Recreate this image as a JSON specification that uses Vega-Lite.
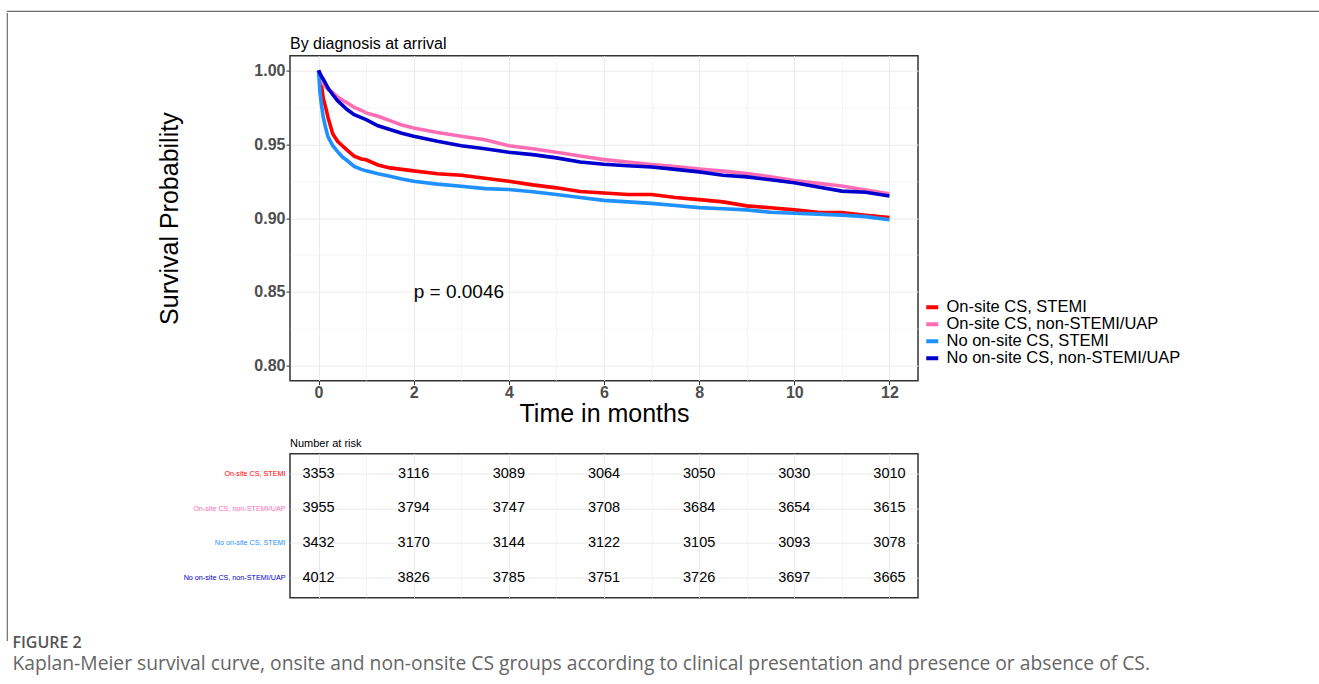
{
  "$schema": "https://vega.github.io/schema/vega-lite/v6.json",
  "padding": {"left": 6, "top": 10, "right": 0, "bottom": 0},
  "background": "white",
  "config": {
    "font": "Liberation Sans",
    "view": {"stroke": null},
    "axis": {"labelFont": "Liberation Sans", "titleFont": "Liberation Sans"},
    "legend": {"labelFont": "Liberation Sans"}
  },
  "title": {
    "text": "FIGURE 2",
    "subtitle": "Kaplan-Meier survival curve, onsite and non-onsite CS groups according to clinical presentation and presence or absence of CS.",
    "orient": "bottom",
    "anchor": "start",
    "frame": "bounds",
    "offset": -5.4,
    "dx": 6,
    "font": "Open Sans",
    "fontSize": 16,
    "fontWeight": 600,
    "color": "#555555",
    "subtitleFont": "Open Sans",
    "subtitleFontSize": 19.3,
    "subtitleColor": "#666666",
    "subtitlePadding": 4
  },
  "spacing": 0,
  "vconcat": [
    {
      "width": 1313,
      "height": 0.01,
      "data": {"values": []},
      "mark": "point",
      "view": {"stroke": "#6e6e6e", "strokeWidth": 1.2}
    },
    {
      "spacing": 149,
      "center": true,
      "hconcat": [
        {
          "width": 0.01,
          "height": 627,
          "data": {"values": []},
          "mark": "point",
          "view": {"stroke": "#6e6e6e", "strokeWidth": 1.2}
        },
        {
          "bounds": "flush",
          "spacing": 73,
          "vconcat": [
            {
              "width": 628,
              "height": 325,
              "title": {"text": "By diagnosis at arrival", "anchor": "start", "frame": "group", "fontSize": 16, "fontWeight": "normal", "offset": 4, "color": "black", "font": "Liberation Sans"},
              "view": {"stroke": "#333333", "strokeWidth": 1.5},
              "layer": [
                {
                  "data": {"values": [
                    {"g": "On-site CS, STEMI", "t": 0, "s": 1.0},
                    {"g": "On-site CS, STEMI", "t": 0.03, "s": 0.995},
                    {"g": "On-site CS, STEMI", "t": 0.06, "s": 0.99},
                    {"g": "On-site CS, STEMI", "t": 0.1, "s": 0.981},
                    {"g": "On-site CS, STEMI", "t": 0.15, "s": 0.975},
                    {"g": "On-site CS, STEMI", "t": 0.2, "s": 0.968},
                    {"g": "On-site CS, STEMI", "t": 0.3, "s": 0.957},
                    {"g": "On-site CS, STEMI", "t": 0.4, "s": 0.952},
                    {"g": "On-site CS, STEMI", "t": 0.5, "s": 0.949},
                    {"g": "On-site CS, STEMI", "t": 0.6, "s": 0.946},
                    {"g": "On-site CS, STEMI", "t": 0.75, "s": 0.942},
                    {"g": "On-site CS, STEMI", "t": 0.9, "s": 0.940},
                    {"g": "On-site CS, STEMI", "t": 1, "s": 0.9395},
                    {"g": "On-site CS, STEMI", "t": 1.25, "s": 0.936},
                    {"g": "On-site CS, STEMI", "t": 1.5, "s": 0.934},
                    {"g": "On-site CS, STEMI", "t": 1.75, "s": 0.933},
                    {"g": "On-site CS, STEMI", "t": 2, "s": 0.932},
                    {"g": "On-site CS, STEMI", "t": 2.5, "s": 0.930},
                    {"g": "On-site CS, STEMI", "t": 3, "s": 0.929},
                    {"g": "On-site CS, STEMI", "t": 3.5, "s": 0.927},
                    {"g": "On-site CS, STEMI", "t": 4, "s": 0.925},
                    {"g": "On-site CS, STEMI", "t": 4.5, "s": 0.9225},
                    {"g": "On-site CS, STEMI", "t": 5, "s": 0.9205},
                    {"g": "On-site CS, STEMI", "t": 5.5, "s": 0.918},
                    {"g": "On-site CS, STEMI", "t": 6, "s": 0.917},
                    {"g": "On-site CS, STEMI", "t": 6.5, "s": 0.916},
                    {"g": "On-site CS, STEMI", "t": 7, "s": 0.916},
                    {"g": "On-site CS, STEMI", "t": 7.5, "s": 0.914},
                    {"g": "On-site CS, STEMI", "t": 8, "s": 0.9125},
                    {"g": "On-site CS, STEMI", "t": 8.5, "s": 0.911},
                    {"g": "On-site CS, STEMI", "t": 9, "s": 0.9083},
                    {"g": "On-site CS, STEMI", "t": 9.5, "s": 0.907},
                    {"g": "On-site CS, STEMI", "t": 10, "s": 0.9056},
                    {"g": "On-site CS, STEMI", "t": 10.5, "s": 0.904},
                    {"g": "On-site CS, STEMI", "t": 11, "s": 0.9038},
                    {"g": "On-site CS, STEMI", "t": 11.5, "s": 0.902},
                    {"g": "On-site CS, STEMI", "t": 12, "s": 0.9004},
                    {"g": "On-site CS, non-STEMI/UAP", "t": 0, "s": 1.0},
                    {"g": "On-site CS, non-STEMI/UAP", "t": 0.03, "s": 0.997},
                    {"g": "On-site CS, non-STEMI/UAP", "t": 0.06, "s": 0.994},
                    {"g": "On-site CS, non-STEMI/UAP", "t": 0.1, "s": 0.991},
                    {"g": "On-site CS, non-STEMI/UAP", "t": 0.15, "s": 0.989},
                    {"g": "On-site CS, non-STEMI/UAP", "t": 0.2, "s": 0.987},
                    {"g": "On-site CS, non-STEMI/UAP", "t": 0.3, "s": 0.985},
                    {"g": "On-site CS, non-STEMI/UAP", "t": 0.4, "s": 0.982},
                    {"g": "On-site CS, non-STEMI/UAP", "t": 0.5, "s": 0.980},
                    {"g": "On-site CS, non-STEMI/UAP", "t": 0.6, "s": 0.978},
                    {"g": "On-site CS, non-STEMI/UAP", "t": 0.75, "s": 0.975},
                    {"g": "On-site CS, non-STEMI/UAP", "t": 0.9, "s": 0.973},
                    {"g": "On-site CS, non-STEMI/UAP", "t": 1, "s": 0.9712},
                    {"g": "On-site CS, non-STEMI/UAP", "t": 1.25, "s": 0.969},
                    {"g": "On-site CS, non-STEMI/UAP", "t": 1.5, "s": 0.966},
                    {"g": "On-site CS, non-STEMI/UAP", "t": 1.75, "s": 0.963},
                    {"g": "On-site CS, non-STEMI/UAP", "t": 2, "s": 0.961},
                    {"g": "On-site CS, non-STEMI/UAP", "t": 2.5, "s": 0.958},
                    {"g": "On-site CS, non-STEMI/UAP", "t": 3, "s": 0.9554},
                    {"g": "On-site CS, non-STEMI/UAP", "t": 3.5, "s": 0.953},
                    {"g": "On-site CS, non-STEMI/UAP", "t": 4, "s": 0.949},
                    {"g": "On-site CS, non-STEMI/UAP", "t": 4.5, "s": 0.947},
                    {"g": "On-site CS, non-STEMI/UAP", "t": 5, "s": 0.9446},
                    {"g": "On-site CS, non-STEMI/UAP", "t": 5.5, "s": 0.942},
                    {"g": "On-site CS, non-STEMI/UAP", "t": 6, "s": 0.9396},
                    {"g": "On-site CS, non-STEMI/UAP", "t": 6.5, "s": 0.938},
                    {"g": "On-site CS, non-STEMI/UAP", "t": 7, "s": 0.9362},
                    {"g": "On-site CS, non-STEMI/UAP", "t": 7.5, "s": 0.935},
                    {"g": "On-site CS, non-STEMI/UAP", "t": 8, "s": 0.9333},
                    {"g": "On-site CS, non-STEMI/UAP", "t": 8.5, "s": 0.9318},
                    {"g": "On-site CS, non-STEMI/UAP", "t": 9, "s": 0.9301},
                    {"g": "On-site CS, non-STEMI/UAP", "t": 9.5, "s": 0.928},
                    {"g": "On-site CS, non-STEMI/UAP", "t": 10, "s": 0.9254},
                    {"g": "On-site CS, non-STEMI/UAP", "t": 10.5, "s": 0.9235},
                    {"g": "On-site CS, non-STEMI/UAP", "t": 11, "s": 0.9217},
                    {"g": "On-site CS, non-STEMI/UAP", "t": 11.5, "s": 0.919},
                    {"g": "On-site CS, non-STEMI/UAP", "t": 12, "s": 0.9165},
                    {"g": "No on-site CS, STEMI", "t": 0, "s": 1.0},
                    {"g": "No on-site CS, STEMI", "t": 0.03, "s": 0.985},
                    {"g": "No on-site CS, STEMI", "t": 0.06, "s": 0.977},
                    {"g": "No on-site CS, STEMI", "t": 0.1, "s": 0.968},
                    {"g": "No on-site CS, STEMI", "t": 0.15, "s": 0.961},
                    {"g": "No on-site CS, STEMI", "t": 0.2, "s": 0.955},
                    {"g": "No on-site CS, STEMI", "t": 0.3, "s": 0.949},
                    {"g": "No on-site CS, STEMI", "t": 0.4, "s": 0.945},
                    {"g": "No on-site CS, STEMI", "t": 0.5, "s": 0.9415},
                    {"g": "No on-site CS, STEMI", "t": 0.6, "s": 0.939},
                    {"g": "No on-site CS, STEMI", "t": 0.75, "s": 0.935},
                    {"g": "No on-site CS, STEMI", "t": 0.9, "s": 0.933},
                    {"g": "No on-site CS, STEMI", "t": 1, "s": 0.932},
                    {"g": "No on-site CS, STEMI", "t": 1.25, "s": 0.930},
                    {"g": "No on-site CS, STEMI", "t": 1.5, "s": 0.9284},
                    {"g": "No on-site CS, STEMI", "t": 1.75, "s": 0.9265},
                    {"g": "No on-site CS, STEMI", "t": 2, "s": 0.925},
                    {"g": "No on-site CS, STEMI", "t": 2.5, "s": 0.923},
                    {"g": "No on-site CS, STEMI", "t": 3, "s": 0.9216},
                    {"g": "No on-site CS, STEMI", "t": 3.5, "s": 0.920},
                    {"g": "No on-site CS, STEMI", "t": 4, "s": 0.9194},
                    {"g": "No on-site CS, STEMI", "t": 4.5, "s": 0.9178},
                    {"g": "No on-site CS, STEMI", "t": 5, "s": 0.916},
                    {"g": "No on-site CS, STEMI", "t": 5.5, "s": 0.914},
                    {"g": "No on-site CS, STEMI", "t": 6, "s": 0.912},
                    {"g": "No on-site CS, STEMI", "t": 6.5, "s": 0.911},
                    {"g": "No on-site CS, STEMI", "t": 7, "s": 0.910},
                    {"g": "No on-site CS, STEMI", "t": 7.5, "s": 0.9085},
                    {"g": "No on-site CS, STEMI", "t": 8, "s": 0.9071},
                    {"g": "No on-site CS, STEMI", "t": 8.5, "s": 0.9063},
                    {"g": "No on-site CS, STEMI", "t": 9, "s": 0.9056},
                    {"g": "No on-site CS, STEMI", "t": 9.5, "s": 0.904},
                    {"g": "No on-site CS, STEMI", "t": 10, "s": 0.9033},
                    {"g": "No on-site CS, STEMI", "t": 10.5, "s": 0.9027},
                    {"g": "No on-site CS, STEMI", "t": 11, "s": 0.902},
                    {"g": "No on-site CS, STEMI", "t": 11.5, "s": 0.901},
                    {"g": "No on-site CS, STEMI", "t": 12, "s": 0.8989},
                    {"g": "No on-site CS, non-STEMI/UAP", "t": 0, "s": 1.0},
                    {"g": "No on-site CS, non-STEMI/UAP", "t": 0.03, "s": 0.998},
                    {"g": "No on-site CS, non-STEMI/UAP", "t": 0.06, "s": 0.996},
                    {"g": "No on-site CS, non-STEMI/UAP", "t": 0.1, "s": 0.994},
                    {"g": "No on-site CS, non-STEMI/UAP", "t": 0.15, "s": 0.991},
                    {"g": "No on-site CS, non-STEMI/UAP", "t": 0.2, "s": 0.988},
                    {"g": "No on-site CS, non-STEMI/UAP", "t": 0.3, "s": 0.9835},
                    {"g": "No on-site CS, non-STEMI/UAP", "t": 0.4, "s": 0.9795},
                    {"g": "No on-site CS, non-STEMI/UAP", "t": 0.5, "s": 0.9765},
                    {"g": "No on-site CS, non-STEMI/UAP", "t": 0.6, "s": 0.9735},
                    {"g": "No on-site CS, non-STEMI/UAP", "t": 0.75, "s": 0.970},
                    {"g": "No on-site CS, non-STEMI/UAP", "t": 0.9, "s": 0.968},
                    {"g": "No on-site CS, non-STEMI/UAP", "t": 1, "s": 0.9667},
                    {"g": "No on-site CS, non-STEMI/UAP", "t": 1.25, "s": 0.9625},
                    {"g": "No on-site CS, non-STEMI/UAP", "t": 1.5, "s": 0.960},
                    {"g": "No on-site CS, non-STEMI/UAP", "t": 1.75, "s": 0.9575},
                    {"g": "No on-site CS, non-STEMI/UAP", "t": 2, "s": 0.9554},
                    {"g": "No on-site CS, non-STEMI/UAP", "t": 2.5, "s": 0.952},
                    {"g": "No on-site CS, non-STEMI/UAP", "t": 3, "s": 0.949},
                    {"g": "No on-site CS, non-STEMI/UAP", "t": 3.5, "s": 0.947},
                    {"g": "No on-site CS, non-STEMI/UAP", "t": 4, "s": 0.9446},
                    {"g": "No on-site CS, non-STEMI/UAP", "t": 4.5, "s": 0.943},
                    {"g": "No on-site CS, non-STEMI/UAP", "t": 5, "s": 0.9408},
                    {"g": "No on-site CS, non-STEMI/UAP", "t": 5.5, "s": 0.938},
                    {"g": "No on-site CS, non-STEMI/UAP", "t": 6, "s": 0.9365},
                    {"g": "No on-site CS, non-STEMI/UAP", "t": 6.5, "s": 0.9355},
                    {"g": "No on-site CS, non-STEMI/UAP", "t": 7, "s": 0.9346},
                    {"g": "No on-site CS, non-STEMI/UAP", "t": 7.5, "s": 0.933},
                    {"g": "No on-site CS, non-STEMI/UAP", "t": 8, "s": 0.9313},
                    {"g": "No on-site CS, non-STEMI/UAP", "t": 8.5, "s": 0.929},
                    {"g": "No on-site CS, non-STEMI/UAP", "t": 9, "s": 0.9279},
                    {"g": "No on-site CS, non-STEMI/UAP", "t": 9.5, "s": 0.926},
                    {"g": "No on-site CS, non-STEMI/UAP", "t": 10, "s": 0.9239},
                    {"g": "No on-site CS, non-STEMI/UAP", "t": 10.5, "s": 0.921},
                    {"g": "No on-site CS, non-STEMI/UAP", "t": 11, "s": 0.9183},
                    {"g": "No on-site CS, non-STEMI/UAP", "t": 11.5, "s": 0.9175},
                    {"g": "No on-site CS, non-STEMI/UAP", "t": 12, "s": 0.915}
                  ]},
                  "mark": {"type": "line", "strokeWidth": 3.6, "interpolate": "linear"},
                  "encoding": {
                    "x": {
                      "field": "t", "type": "quantitative",
                      "scale": {"domain": [-0.6, 12.6], "nice": false, "zero": false},
                      "axis": {
                        "title": "Time in months",
                        "values": [0, 1, 2, 3, 4, 5, 6, 7, 8, 9, 10, 11, 12],
                        "labelExpr": "datum.value % 2 === 0 ? datum.label : ''",
                        "labelOverlap": false,
                        "labelFlush": false,
                        "labelFontSize": 16,
                        "labelFontWeight": "bold",
                        "labelColor": "#4D4D4D",
                        "labelPadding": 0,
                        "tickSize": 4,
                        "tickColor": {"condition": {"test": "datum.value % 2 === 0", "value": "#333333"}, "value": "rgba(0,0,0,0)"},
                        "gridColor": "#EBEBEB",
                        "gridWidth": {"condition": {"test": "datum.value % 2 === 0", "value": 1}, "value": 0.5},
                        "domain": false,
                        "titleFontSize": 25,
                        "titleFontWeight": "normal",
                        "titleColor": "black",
                        "titlePadding": 1
                      }
                    },
                    "y": {
                      "field": "s", "type": "quantitative",
                      "scale": {"domain": [0.79, 1.01], "nice": false, "zero": false},
                      "axis": {
                        "title": "Survival Probability",
                        "values": [0.8, 0.825, 0.85, 0.875, 0.9, 0.925, 0.95, 0.975, 1.0],
                        "format": ".2f",
                        "labelExpr": "round(datum.value * 1000) % 50 === 0 ? datum.label : ''",
                        "labelOverlap": false,
                        "labelFlush": false,
                        "labelFontSize": 16,
                        "labelFontWeight": "bold",
                        "labelColor": "#4D4D4D",
                        "labelPadding": 1,
                        "tickSize": 4,
                        "tickColor": {"condition": {"test": "round(datum.value * 1000) % 50 === 0", "value": "#333333"}, "value": "rgba(0,0,0,0)"},
                        "gridColor": "#EBEBEB",
                        "gridWidth": {"condition": {"test": "round(datum.value * 1000) % 50 === 0", "value": 1}, "value": 0.5},
                        "domain": false,
                        "titleFontSize": 25,
                        "titleFontWeight": "normal",
                        "titleColor": "black",
                        "titlePadding": 71
                      }
                    },
                    "color": {
                      "field": "g", "type": "nominal",
                      "scale": {
                        "domain": ["On-site CS, STEMI", "On-site CS, non-STEMI/UAP", "No on-site CS, STEMI", "No on-site CS, non-STEMI/UAP"],
                        "range": ["#FF0000", "#FF6EB4", "#1E90FF", "#0000CD"]
                      },
                      "legend": {
                        "title": null,
                        "orient": "none",
                        "legendX": 917,
                        "legendY": 288,
                        "padding": 0,
                        "labelFontSize": 16.5,
                        "labelColor": "black",
                        "labelLimit": 0,
                        "labelOffset": 6,
                        "symbolType": "stroke",
                        "symbolStrokeWidth": 4,
                        "symbolSize": 144,
                        "rowPadding": -2
                      }
                    }
                  }
                },
                {
                  "data": {"values": [{"t": 2, "s": 0.85, "label": "p = 0.0046"}]},
                  "mark": {"type": "text", "align": "left", "baseline": "middle", "fontSize": 19, "font": "Liberation Sans", "color": "black"},
                  "encoding": {
                    "x": {"field": "t", "type": "quantitative"},
                    "y": {"field": "s", "type": "quantitative"},
                    "text": {"field": "label"}
                  }
                }
              ]
            },
            {
              "width": 628,
              "height": 144,
              "title": {"text": "Number at risk", "anchor": "start", "frame": "group", "fontSize": 11, "fontWeight": "normal", "offset": 5, "color": "black", "font": "Liberation Sans"},
              "view": {"stroke": "#333333", "strokeWidth": 1.5},
              "data": {"values": [
                {"g": "On-site CS, STEMI", "t": 0, "n": "3353"},
                {"g": "On-site CS, STEMI", "t": 2, "n": "3116"},
                {"g": "On-site CS, STEMI", "t": 4, "n": "3089"},
                {"g": "On-site CS, STEMI", "t": 6, "n": "3064"},
                {"g": "On-site CS, STEMI", "t": 8, "n": "3050"},
                {"g": "On-site CS, STEMI", "t": 10, "n": "3030"},
                {"g": "On-site CS, STEMI", "t": 12, "n": "3010"},
                {"g": "On-site CS, non-STEMI/UAP", "t": 0, "n": "3955"},
                {"g": "On-site CS, non-STEMI/UAP", "t": 2, "n": "3794"},
                {"g": "On-site CS, non-STEMI/UAP", "t": 4, "n": "3747"},
                {"g": "On-site CS, non-STEMI/UAP", "t": 6, "n": "3708"},
                {"g": "On-site CS, non-STEMI/UAP", "t": 8, "n": "3684"},
                {"g": "On-site CS, non-STEMI/UAP", "t": 10, "n": "3654"},
                {"g": "On-site CS, non-STEMI/UAP", "t": 12, "n": "3615"},
                {"g": "No on-site CS, STEMI", "t": 0, "n": "3432"},
                {"g": "No on-site CS, STEMI", "t": 2, "n": "3170"},
                {"g": "No on-site CS, STEMI", "t": 4, "n": "3144"},
                {"g": "No on-site CS, STEMI", "t": 6, "n": "3122"},
                {"g": "No on-site CS, STEMI", "t": 8, "n": "3105"},
                {"g": "No on-site CS, STEMI", "t": 10, "n": "3093"},
                {"g": "No on-site CS, STEMI", "t": 12, "n": "3078"},
                {"g": "No on-site CS, non-STEMI/UAP", "t": 0, "n": "4012"},
                {"g": "No on-site CS, non-STEMI/UAP", "t": 2, "n": "3826"},
                {"g": "No on-site CS, non-STEMI/UAP", "t": 4, "n": "3785"},
                {"g": "No on-site CS, non-STEMI/UAP", "t": 6, "n": "3751"},
                {"g": "No on-site CS, non-STEMI/UAP", "t": 8, "n": "3726"},
                {"g": "No on-site CS, non-STEMI/UAP", "t": 10, "n": "3697"},
                {"g": "No on-site CS, non-STEMI/UAP", "t": 12, "n": "3665"}
              ]},
              "mark": {"type": "text", "fontSize": 14.5, "color": "black", "font": "Liberation Sans"},
              "encoding": {
                "x": {
                  "field": "t", "type": "quantitative",
                  "scale": {"domain": [-0.6, 12.6], "nice": false, "zero": false},
                  "axis": {
                    "title": null,
                    "values": [0, 1, 2, 3, 4, 5, 6, 7, 8, 9, 10, 11, 12],
                    "labels": false,
                    "ticks": false,
                    "domain": false,
                    "gridColor": "#EBEBEB",
                    "gridWidth": {"condition": {"test": "datum.value % 2 === 0", "value": 1}, "value": 0.5}
                  }
                },
                "y": {
                  "field": "g", "type": "nominal",
                  "scale": {"type": "point", "padding": 0.575, "domain": ["On-site CS, STEMI", "On-site CS, non-STEMI/UAP", "No on-site CS, STEMI", "No on-site CS, non-STEMI/UAP"]},
                  "axis": {
                    "title": null,
                    "ticks": false,
                    "domain": false,
                    "grid": true,
                    "gridColor": "#EBEBEB",
                    "gridWidth": 1,
                    "labelFontSize": 7.2,
                    "labelPadding": 5,
                    "labelColor": {"condition": [
                      {"test": "datum.value === 'On-site CS, STEMI'", "value": "#FF0000"},
                      {"test": "datum.value === 'On-site CS, non-STEMI/UAP'", "value": "#FF6EB4"},
                      {"test": "datum.value === 'No on-site CS, STEMI'", "value": "#1E90FF"}
                    ], "value": "#0000CD"}
                  }
                },
                "text": {"field": "n", "type": "nominal"}
              }
            }
          ]
        }
      ]
    }
  ]
}
